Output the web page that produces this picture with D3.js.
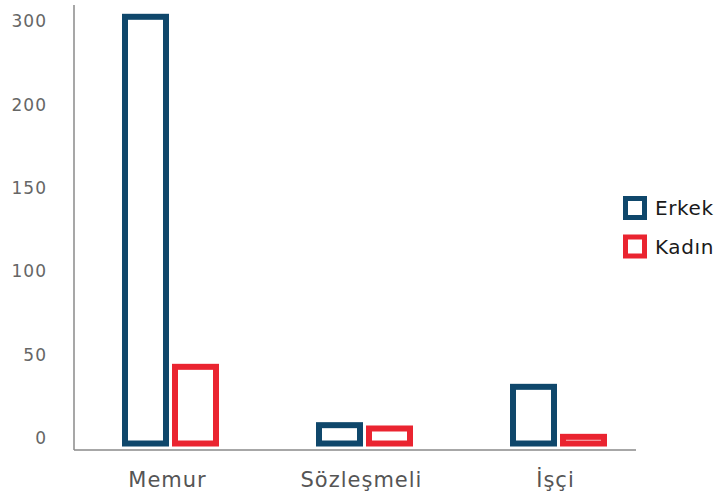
<!DOCTYPE html>
<html><head><meta charset="utf-8">
<script src="https://cdn.jsdelivr.net/npm/d3@7"></script>
<style>body{margin:0;background:#fff}svg{display:block}</style>
</head><body>
<svg id="c" width="722" height="497"></svg>
<script>
const categories = ["Memur", "Sözleşmeli", "İşçi"];
const seriesNames = ["Erkek", "Kadın"];
const erkek = [256, 11, 34];
const kadin = [46, 9, 4];
const tickValues = [0, 50, 100, 150, 200, 250];
const tickLabels = ["0", "50", "100", "150", "200", "300"];
const colors = ["#0f476b", "#ea2430"];

const values = [erkek, kadin];
const svg = d3.select("#c");
const font = "'DejaVu Sans', sans-serif";

const x0 = d3.scaleBand().domain(categories).range([73.5, 655.5]).paddingInner(0.5).paddingOuter(0.25);
const x1 = d3.scaleBand().domain(seriesNames).range([0, x0.bandwidth()]).paddingInner(0.06);
const y = d3.scaleLinear().domain([0, 250]).range([443.5, 26.8]);
const sw = 6;

// axes lines
svg.append("line").attr("x1", 74).attr("x2", 74).attr("y1", 5).attr("y2", 450)
  .attr("stroke", "#8a8a8a").attr("stroke-width", 1.5);
svg.append("line").attr("x1", 74).attr("x2", 636).attr("y1", 450).attr("y2", 450)
  .attr("stroke", "#8a8a8a").attr("stroke-width", 1.5);

// y tick labels
svg.append("g").selectAll("text").data(tickValues).join("text")
  .attr("x", 47).attr("y", d => y(d) - 5.5).attr("dy", "0.35em")
  .attr("text-anchor", "end").attr("font-family", font).attr("font-size", 17)
  .attr("letter-spacing", 1).attr("fill", "#666")
  .text((d, i) => tickLabels[i]);

// bars
categories.forEach((c, ci) => {
  seriesNames.forEach((s, si) => {
    const v = values[si][ci];
    svg.append("rect")
      .attr("x", x0(c) + x1(s) + sw / 2)
      .attr("width", x1.bandwidth() - sw)
      .attr("y", y(v))
      .attr("height", y(0) - y(v))
      .attr("fill", "#fff").attr("stroke", colors[si]).attr("stroke-width", sw);
  });
});

// x labels
svg.append("g").selectAll("text").data(categories).join("text")
  .attr("x", d => x0(d) + x0.bandwidth() / 2 - 3).attr("y", 480).attr("dy", "0.35em")
  .attr("text-anchor", "middle").attr("font-family", font).attr("font-size", 21)
  .attr("letter-spacing", 1).attr("fill", "#555").text(d => d);

// legend
const lg = svg.append("g");
seriesNames.forEach((s, i) => {
  const cy = 208 + i * 38.5;
  lg.append("rect").attr("x", 625.5).attr("y", cy - 9.5).attr("width", 19).attr("height", 19)
    .attr("fill", "#fff").attr("stroke", colors[i]).attr("stroke-width", 5);
  lg.append("text").attr("x", 655).attr("y", cy).attr("dy", "0.35em")
    .attr("font-family", font).attr("font-size", 20).attr("letter-spacing", 0.6)
    .attr("fill", "#1a1a1a").text(s);
});
</script>
</body></html>
